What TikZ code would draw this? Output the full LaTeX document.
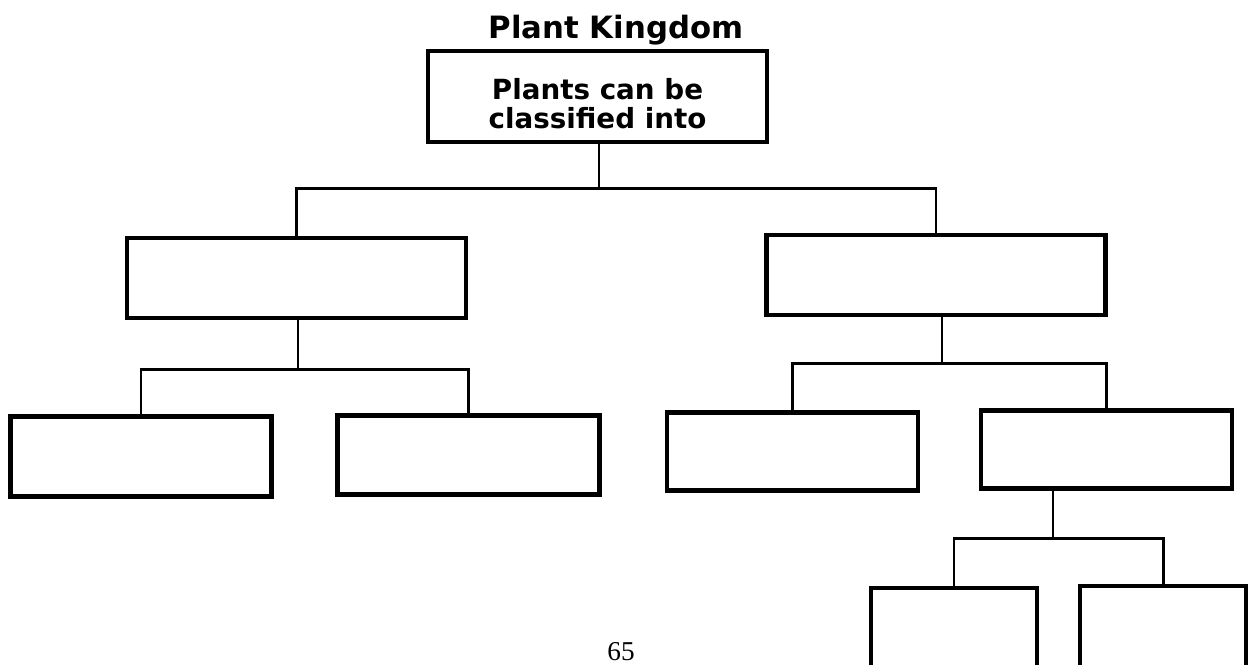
\documentclass[tikz,border=0pt]{standalone}
\usepackage{fontspec}
\setmainfont{DejaVu Sans}
\newfontfamily\pagefont{Liberation Serif}
\usetikzlibrary{positioning}

\begin{document}
\begin{tikzpicture}[x=0.02cm,y=-0.02cm,
      box/.style={draw,line width=2.6pt,inner sep=0pt,align=center,
        font=\fontsize{15.8}{16.5}\selectfont\bfseries},
      topbox/.style={box,minimum width=6.78cm,minimum height=1.82cm},
      midbox/.style={box,minimum width=6.78cm,minimum height=1.6cm},
      lowbox/.style={box,minimum width=5.23cm,minimum height=1.59cm},
      rowbox/.style={box,minimum width=5.02cm,minimum height=1.56cm},
      leafbox/.style={box,minimum width=3.32cm,minimum height=2.6cm},
      link/.style={draw,line width=1.7pt}]

    \path[use as bounding box,fill=white] (0,0) rectangle (1249,664);

    \node[font=\fontsize{17.5}{20}\selectfont\bfseries,anchor=base] (title) at (616,38) {Plant Kingdom};
    \node[topbox]  (plants) at (597.5,96.5) {\rule{0pt}{20.6pt}Plants can be\\classified into};

    \node[midbox]  (groupA) at (296.5,278) {};
    \node[midbox]  (groupB) at (936,275)   {};

    \node[lowbox]  (groupA1) at (141,456.5) {};
    \node[lowbox]  (groupA2) at (468.5,455) {};
    \node[rowbox]  (groupB1) at (792.5,451.5) {};
    \node[rowbox]  (groupB2) at (1106.5,449.5) {};

    \node[leafbox] (groupB2a) at (954,653)  {};
    \node[leafbox] (groupB2b) at (1163,651) {};

    \coordinate (bar0) at (599,188);
    \coordinate (barA) at (298,369);
    \coordinate (barB) at (942,363);
    \coordinate (barC) at (1053,538);

    \draw[link] (bar0 |- plants.south) -- (bar0);
    \draw[link] (groupA.north) |- (bar0) -| (groupB.north);

    \draw[link] (barA |- groupA.south) -- (barA);
    \draw[link] (groupA1.north) |- (barA) -| (groupA2.north);

    \draw[link] (barB |- groupB.south) -- (barB);
    \draw[link] (groupB1.north) |- (barB) -| (groupB2.north);

    \draw[link] (barC |- groupB2.south) -- (barC);
    \draw[link] (groupB2a.north) |- (barC) -| (groupB2b.north);

    \node[font=\pagefont\fontsize{15.5}{17}\selectfont,anchor=base] (page) at (621,660) {65};
  \end{tikzpicture}
\end{document}
